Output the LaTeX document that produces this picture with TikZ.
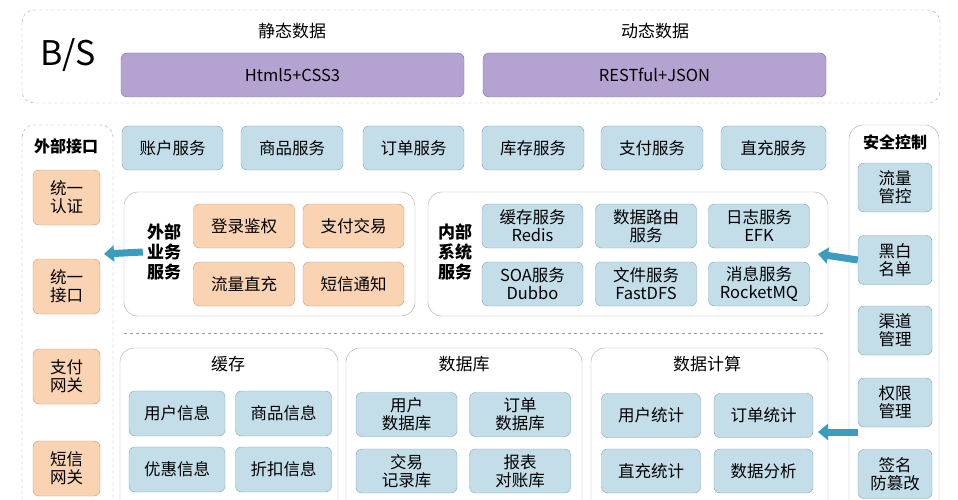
\documentclass[tikz,border=0pt]{standalone}
\usepackage{fontspec}
\setmainfont{Noto Sans CJK SC}
\usetikzlibrary{arrows.meta}
\definecolor{boxblue}{HTML}{C3DEE9}
\definecolor{lineblue}{HTML}{7FA3B5}
\definecolor{boxorange}{HTML}{FAD3B3}
\definecolor{lineorange}{HTML}{C99873}
\definecolor{boxpurple}{HTML}{B4A3D1}
\definecolor{linepurple}{HTML}{7B6BA3}
\definecolor{arrowteal}{HTML}{3A9DBF}
\tikzset{
    tbox/.style = {align=center, inner sep=0pt, rounded corners=6pt, font=\fontsize{16.5}{18}\selectfont},
    blue_box/.style = {tbox, draw=lineblue, fill=boxblue},
    orange_box/.style = {tbox, draw=lineorange, fill=boxorange},
    purple_box/.style = {tbox, draw=linepurple, fill=boxpurple},
    group/.style = {draw=gray!70, rounded corners=14pt, thin},
    dgroup/.style = {draw=gray!80, dashed, rounded corners=12pt, thin},
    title/.style = {align=center, inner sep=0pt, font=\fontsize{17}{19}\selectfont},
    btitle/.style = {align=center, inner sep=0pt, font=\fontsize{16}{18}\selectfont\bfseries},
    flow/.style = {arrowteal, line width=7pt, -{Triangle[width=16pt,length=10pt]}}
}
\begin{document}
\begin{tikzpicture}[x=1pt,y=-1pt]
    \useasboundingbox (0,0) rectangle (958,500);

    % B/S layer
    \draw[dgroup] (22,10) rectangle (940,103);
    \node[title, font=\fontsize{34}{36}\selectfont] (bs) at (68,55) {B/S};
    \node[title] (static) at (292,31) {静态数据};
    \node[title] (dynamic) at (655,31) {动态数据};
    \node[purple_box, minimum width=343, minimum height=44] (html) at (292.5,75) {Html5+CSS3};
    \node[purple_box, minimum width=343, minimum height=44] (rest) at (654.5,75) {RESTful+JSON};

    % external interfaces
    \draw[dgroup] (22,125) rectangle (113,520);
    \node[btitle] (extif) at (66,146) {外部接口};
    \foreach \name/\txt/\y in {auth/统一\\认证/197.5, api/统一\\接口/286.5, paygw/支付\\网关/376.5, smsgw/短信\\网关/468.5}
        \node[orange_box, minimum width=67, minimum height=55] (\name) at (66.5,\y) {\txt};

    % security control
    \draw[group] (849,125) rectangle (939,520);
    \node[btitle] (sec) at (895,142) {安全控制};
    \foreach \name/\txt/\y in {flow/流量\\管控/187.5, black/黑白\\名单/260, channel/渠道\\管理/330.5, perm/权限\\管理/402.5, sign/签名\\防篡改/474}
        \node[blue_box, minimum width=74, minimum height=49] (\name) at (895,\y) {\txt};

    % services
    \foreach \name/\txt/\x/\w in {acct/账户服务/172.5/101, goods/商品服务/292/102, order/订单服务/413.5/101, stock/库存服务/533/102, pay/支付服务/652/102, charge/直充服务/773.5/105}
        \node[blue_box, minimum width=\w, minimum height=44] (\name) at (\x,148) {\txt};

    % external business services
    \draw[group] (124,192) rectangle (415,316);
    \node[btitle, font=\fontsize{17}{20}\selectfont\bfseries] (extbiz) at (164,252) {外部\\业务\\服务};
    \foreach \name/\txt/\x/\y in {login/登录鉴权/244/226, trade/支付交易/353.5/226, topup/流量直充/244/284, sms/短信通知/353.5/284}
        \node[orange_box, minimum width=101, minimum height=44] (\name) at (\x,\y) {\txt};

    % internal system services
    \draw[group] (428,192) rectangle (828,316);
    \node[btitle, font=\fontsize{17}{20}\selectfont\bfseries] (intsys) at (455,252) {内部\\系统\\服务};
    \foreach \name/\txt/\x/\y in {redis/缓存服务\\Redis/532.5/226, route/数据路由\\服务/646/226, efk/日志服务\\EFK/759/226, soa/SOA服务\\Dubbo/532.5/284, dfs/文件服务\\FastDFS/646/284, mq/消息服务\\RocketMQ/759/284}
        \node[blue_box, minimum width=101, minimum height=44] (\name) at (\x,\y) {\txt};

    \draw[gray!80, dashed] (124,333) -- (826,333);

    % cache
    \draw[group] (120,348) rectangle (338,520);
    \node[title] (cache) at (228,364) {缓存};
    \foreach \name/\txt/\x/\y in {userinfo/用户信息/177/413.5, goodsinfo/商品信息/283.5/413.5, coupon/优惠信息/177/469.5, discount/折扣信息/283.5/469.5}
        \node[blue_box, minimum width=96, minimum height=45] (\name) at (\x,\y) {\txt};

    % database
    \draw[group] (346,348) rectangle (582,520);
    \node[title] (db) at (464,364) {数据库};
    \foreach \name/\txt/\x/\y in {userdb/用户\\数据库/406.5/414.5, orderdb/订单\\数据库/520/414.5, tradedb/交易\\记录库/406.5/471, reportdb/报表\\对账库/520/471}
        \node[blue_box, minimum width=101, minimum height=44] (\name) at (\x,\y) {\txt};

    % data computing
    \draw[group] (591,348) rectangle (828,520);
    \node[title] (calc) at (707,364) {数据计算};
    \foreach \name/\txt/\x/\y in {userstat/用户统计/651/415.5, orderstat/订单统计/763.5/415.5, chargestat/直充统计/651/471, analysis/数据分析/763.5/471}
        \node[blue_box, minimum width=99, minimum height=44] (\name) at (\x,\y) {\txt};

    % arrows
    \coordinate (extin) at (104,254);
    \coordinate (intin) at (818,254);
    \coordinate (calcin) at (818,432);
    \draw[flow] (extbiz.west) ++(-4,0) -- (extin);
    \draw[flow] (black.west) -- (intin);
    \draw[flow] (perm.west |- calcin) -- (calcin);
\end{tikzpicture}
\end{document}
